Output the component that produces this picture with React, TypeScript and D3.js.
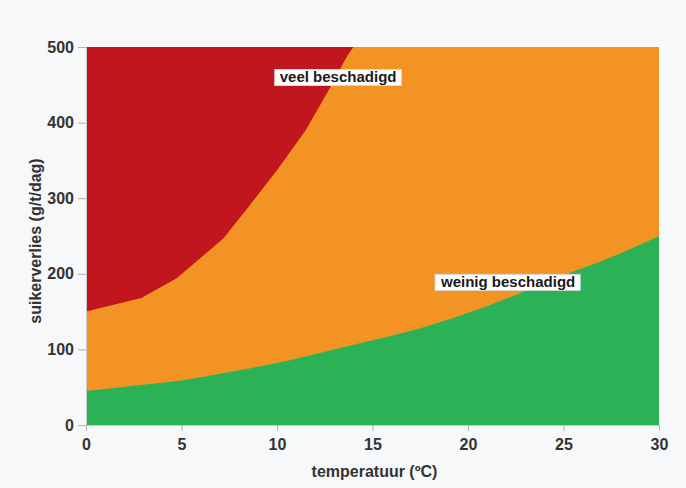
import { useEffect, useRef } from "react";
import * as d3 from "d3";

// grens zwaar beschadigd (onderkant rood gebied)
const redTemps = [0, 2.9, 4.75, 7.2, 8.4, 10, 11.5, 12.8, 13.65, 14, 30];
const redLower = [150, 168, 194, 247, 285, 337, 390, 447, 487, 500, 500];

// grens weinig beschadigd (bovenkant groen gebied)
const greenTemps = [0, 2.5, 5, 7.5, 10, 12.5, 15, 17.5, 20, 22.5, 25, 27.5, 30];
const greenTop = [45, 52, 59, 70, 82, 97, 112, 128, 148, 172, 198, 222, 250];

const xTicks = [0, 5, 10, 15, 20, 25, 30];
const yTicks = [0, 100, 200, 300, 400, 500];

const labelText = ["veel beschadigd", "weinig beschadigd"];
const labelTemp = [13.2, 22.1];
const labelValue = [460, 189];

const W = 686;
const H = 488;
const FONT = "'Liberation Sans', Arial, sans-serif";

export default function App() {
  const svgRef = useRef<SVGSVGElement>(null);

  useEffect(() => {
    const svg = d3.select(svgRef.current);
    svg.selectAll("*").remove();

    const x = d3.scaleLinear().domain([0, 30]).range([86, 659]);
    const y = d3.scaleLinear().domain([0, 500]).range([425, 47]);

    svg.append("rect").attr("width", W).attr("height", H).attr("fill", "#f6f8fa");

    const areaFull = d3
      .area<number>()
      .x((d) => x(d))
      .y0(y(0))
      .y1(y(500));
    svg.append("path").attr("d", areaFull(x.domain())).attr("fill", "#c1161d");

    const redPts = redTemps.map((t, i) => [t, redLower[i]] as [number, number]);
    const areaOrange = d3
      .area<[number, number]>()
      .x((d) => x(d[0]))
      .y0(y(0))
      .y1((d) => y(d[1]));
    svg.append("path").attr("d", areaOrange(redPts)).attr("fill", "#f39324");

    const greenPts = greenTemps.map((t, i) => [t, greenTop[i]] as [number, number]);
    const areaGreen = d3
      .area<[number, number]>()
      .curve(d3.curveMonotoneX)
      .x((d) => x(d[0]))
      .y0(y(0))
      .y1((d) => y(d[1]));
    svg.append("path").attr("d", areaGreen(greenPts)).attr("fill", "#2bb256");

    // assen
    const gy = svg.append("g").attr("transform", `translate(${x(0)},0)`);
    gy.call(d3.axisLeft(y).tickValues(yTicks).tickSize(8).tickPadding(4));
    gy.select(".domain").attr("stroke", "#c8cacc").attr("stroke-width", 1);
    gy.selectAll(".tick line").attr("stroke", "#b0b2b4");
    gy.selectAll("text")
      .attr("font-family", FONT)
      .attr("font-weight", "bold")
      .attr("font-size", 16)
      .attr("fill", "#333");

    const gx = svg.append("g").attr("transform", `translate(0,${y(0)})`);
    gx.call(d3.axisBottom(x).tickValues(xTicks).tickSize(6).tickPadding(8));
    gx.select(".domain").attr("stroke", "#c8cacc").attr("stroke-width", 1);
    gx.selectAll(".tick line").attr("stroke", "#b0b2b4");
    gx.selectAll("text")
      .attr("font-family", FONT)
      .attr("font-weight", "bold")
      .attr("font-size", 16)
      .attr("fill", "#333");

    svg
      .append("text")
      .attr("x", (x(0) + x(30)) / 2 + 2)
      .attr("y", 477)
      .attr("text-anchor", "middle")
      .attr("font-family", FONT)
      .attr("font-weight", "bold")
      .attr("font-size", 16)
      .attr("fill", "#333")
      .text("temperatuur (ºC)");

    svg
      .append("text")
      .attr("transform", `translate(41,${(y(0) + y(500)) / 2 + 5}) rotate(-90)`)
      .attr("text-anchor", "middle")
      .attr("font-family", FONT)
      .attr("font-weight", "bold")
      .attr("font-size", 16)
      .attr("fill", "#333")
      .text("suikerverlies (g/t/dag)");

    // labels met witte kaders
    labelText.forEach((t, i) => {
      const g = svg.append("g");
      const txt = g
        .append("text")
        .attr("x", x(labelTemp[i]))
        .attr("y", y(labelValue[i]))
        .attr("dy", "0.35em")
        .attr("text-anchor", "middle")
        .attr("font-family", FONT)
        .attr("font-weight", "bold")
        .attr("font-size", 15)
        .attr("fill", "#1a1a1a")
        .text(t);
      const bb = (txt.node() as SVGTextElement).getBBox();
      g.insert("rect", "text")
        .attr("x", bb.x - 5)
        .attr("y", bb.y + 1)
        .attr("width", bb.width + 10)
        .attr("height", bb.height - 1)
        .attr("fill", "#ffffff")
        .attr("stroke", "#d8d8d8")
        .attr("stroke-width", 1);
    });
  }, []);

  return (
    <svg
      ref={svgRef}
      width={W}
      height={H}
      style={{ position: "absolute", left: 0, top: 0, display: "block" }}
    />
  );
}
